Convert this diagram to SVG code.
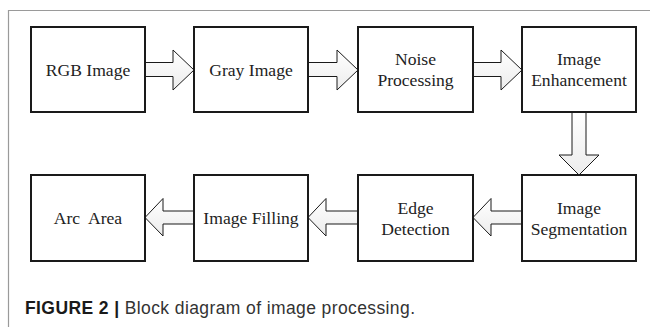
<svg xmlns="http://www.w3.org/2000/svg" width="650" height="327" viewBox="0 0 650 327">
  <style>
    .box { fill: #ffffff; stroke: #1a1a1a; stroke-width: 2; }
    .arrow { fill: url(#arrowFill); stroke: #1a1a1a; stroke-width: 1; stroke-linejoin: miter; }
    .label { font-family: "Liberation Serif", "Times New Roman", serif; font-size: 17.6px; fill: #222222; text-anchor: middle; white-space: pre; }
    .frame { fill: none; stroke: #9a9a9a; stroke-width: 1.2; }
    .caption { font-family: "Liberation Sans", Arial, Helvetica, sans-serif; font-size: 17.5px; fill: #333333; }
    .caption .strong { font-weight: bold; fill: #1a1a1a; }
  </style>
  <defs>
    <linearGradient id="arrowFill" x1="0" y1="0" x2="0" y2="1">
      <stop offset="0" stop-color="#ffffff"/>
      <stop offset="1" stop-color="#ececec"/>
    </linearGradient>
  </defs>

  <rect width="650" height="327" fill="#ffffff"/>

  <!-- figure frame: top and left rules -->
  <path class="frame" d="M8.5,327 V10.5 H650"/>

  <!-- connectors: block arrows -->
  <g id="connectors">
    <!-- RGB -> Gray -->
    <polygon class="arrow" points="145,62.5 173,62.5 173,50 194,70 173,90 173,76.5 145,76.5"/>
    <!-- Gray -> Noise -->
    <polygon class="arrow" points="308,62.5 337,62.5 337,50 358,70 337,90 337,76.5 308,76.5"/>
    <!-- Noise -> Enhancement -->
    <polygon class="arrow" points="473,62.5 501,62.5 501,50 522,70 501,90 501,76.5 473,76.5"/>
    <!-- Enhancement -> Segmentation -->
    <polygon class="arrow" points="572,112 586,112 586,155 599,155 579,175 559,155 572,155"/>
    <!-- Segmentation -> Edge -->
    <polygon class="arrow" points="522,211 491,211 491,198.5 473,217.5 491,236 491,224 522,224"/>
    <!-- Edge -> Filling -->
    <polygon class="arrow" points="358,211 326,211 326,198.5 308,217.5 326,236 326,224 358,224"/>
    <!-- Filling -> Arc Area -->
    <polygon class="arrow" points="194,211 163,211 163,198.5 145,217.5 163,236 163,224 194,224"/>
  </g>

  <g id="node-rgb">
    <rect class="box" x="31" y="27" width="114" height="85"/>
    <text class="label" x="88" y="75.5">RGB Image</text>
  </g>
  <g id="node-gray">
    <rect class="box" x="194" y="27" width="114" height="85"/>
    <text class="label" x="251" y="75.5">Gray Image</text>
  </g>
  <g id="node-noise">
    <rect class="box" x="358" y="27" width="115" height="85"/>
    <text class="label" x="415.5" y="64.5">Noise</text>
    <text class="label" x="415.5" y="85.5">Processing</text>
  </g>
  <g id="node-enhancement">
    <rect class="box" x="522" y="27" width="114" height="85"/>
    <text class="label" x="579" y="64.5">Image</text>
    <text class="label" x="579" y="85.5">Enhancement</text>
  </g>
  <g id="node-segmentation">
    <rect class="box" x="522" y="175" width="114" height="86"/>
    <text class="label" x="579" y="213.5">Image</text>
    <text class="label" x="579" y="234.5">Segmentation</text>
  </g>
  <g id="node-edge">
    <rect class="box" x="358" y="175" width="115" height="86"/>
    <text class="label" x="415.5" y="213.5">Edge</text>
    <text class="label" x="415.5" y="234.5">Detection</text>
  </g>
  <g id="node-filling">
    <rect class="box" x="194" y="175" width="114" height="86"/>
    <text class="label" x="251" y="223.5">Image Filling</text>
  </g>
  <g id="node-arc">
    <rect class="box" x="31" y="175" width="114" height="86"/>
    <text class="label" x="88" y="223.5" xml:space="preserve">Arc  Area</text>
  </g>

  <!-- caption -->
  <text class="caption" x="25" y="313.5" textLength="390" lengthAdjust="spacing"><tspan class="strong">FIGURE 2 |</tspan> Block diagram of image processing.</text>
</svg>
